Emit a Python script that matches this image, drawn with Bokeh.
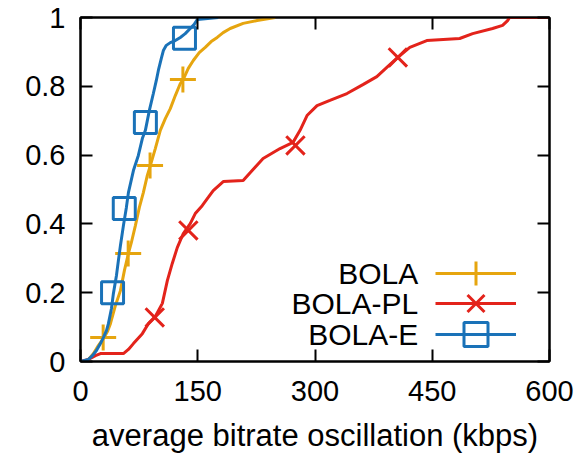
from bokeh.plotting import figure
from bokeh.models import (LinearAxis, FixedTicker, CustomJSTickFormatter, Range1d,
                          Legend, LegendItem, Label)
from bokeh.embed import file_html
from bokeh.resources import INLINE

# ---- data ----
bola_x = [5.1, 10.2, 16.6, 23.0, 29.4, 34.5, 38.3, 44.7, 51.1, 56.2, 61.3, 65.1, 70.2, 75.3,
          80.4, 85.5, 89.4, 95.7, 102.1, 108.5, 114.9, 121.3, 127.7, 131.5, 137.9, 144.3,
          151.9, 159.6, 167.2, 174.9, 182.5, 191.5, 208.1, 226.0, 249.0]
bola_y = [0.0, 0.006, 0.023, 0.047, 0.067, 0.087, 0.110, 0.163, 0.206, 0.265, 0.314, 0.346,
          0.395, 0.448, 0.491, 0.541, 0.570, 0.619, 0.672, 0.706, 0.735, 0.773, 0.808, 0.820,
          0.852, 0.875, 0.898, 0.913, 0.930, 0.942, 0.956, 0.968, 0.983, 0.991, 1.0]
bola_mx = [29, 61, 89, 131]
bola_my = [0.07, 0.314, 0.57, 0.82]

bolapl_x = [0.0, 10.2, 19.1, 25.5, 54.9, 61.3, 67.7, 79.1, 86.8, 95.7, 104.7, 111.1, 117.4,
            123.8, 131.5, 140.4, 146.8, 155.7, 163.4, 169.8, 182.6, 208.1, 217.0, 233.6,
            255.3, 271.9, 280.9, 289.8, 302.6, 319.1, 340.9, 361.3, 379.1, 391.9, 406.0,
            421.3, 443.0, 485.1, 501.7, 527.2, 540.0, 546.4, 548.9, 600.0]
bolapl_y = [0.0, 0.006, 0.017, 0.023, 0.023, 0.035, 0.052, 0.081, 0.110, 0.131, 0.169, 0.235,
            0.285, 0.331, 0.372, 0.401, 0.430, 0.453, 0.477, 0.497, 0.523, 0.526, 0.549,
            0.590, 0.619, 0.637, 0.672, 0.715, 0.744, 0.759, 0.779, 0.805, 0.828, 0.855,
            0.884, 0.913, 0.933, 0.939, 0.953, 0.968, 0.977, 0.991, 1.0, 1.0]
bolapl_mx = [95, 138, 275, 406]
bolapl_my = [0.128, 0.381, 0.628, 0.884]

bolae_x = [0.0, 10.2, 15.3, 20.4, 25.5, 29.4, 33.2, 35.7, 39.6, 42.1, 46.0, 48.5, 51.1, 54.9,
           58.7, 61.3, 67.7, 74.0, 79.1, 83.0, 88.1, 93.2, 97.0, 99.6, 103.4, 106.0, 109.8,
           114.9, 121.3, 127.7, 134.0, 140.4, 145.5, 149.4, 176.2]
bolae_y = [0.0, 0.006, 0.017, 0.032, 0.052, 0.070, 0.090, 0.110, 0.154, 0.198, 0.25, 0.294,
           0.337, 0.395, 0.448, 0.491, 0.555, 0.599, 0.648, 0.672, 0.730, 0.779, 0.817,
           0.846, 0.881, 0.904, 0.919, 0.927, 0.933, 0.942, 0.953, 0.968, 0.980, 0.994, 1.0]
bolae_mx = [41, 56, 83, 133]
bolae_my = [0.20, 0.445, 0.695, 0.94]

series_names = ["BOLA", "BOLA-PL", "BOLA-E"]
x_ticks = [0, 150, 300, 450, 600]
y_ticks = [0, 0.2, 0.4, 0.6, 0.8, 1.0]
x_title = "average bitrate oscillation (kbps)"

# ---- styling ----
FONT = "Liberation Sans"
FS = "29px"
C_BOLA = "#E6A50F"
C_PL = "#E3231B"
C_E = "#1A72B8"

p = figure(width=574, height=455, output_backend="svg", toolbar_location=None,
           x_range=Range1d(0, 600), y_range=Range1d(0, 1),
           min_border_left=80, min_border_right=25, min_border_top=17, min_border_bottom=91,
           x_axis_label=x_title)
p.grid.visible = False
p.outline_line_color = "black"
p.outline_line_width = 2
p.background_fill_color = "white"
p.border_fill_color = "white"

def style_axis(ax, ticks, show_labels):
    ax.ticker = FixedTicker(ticks=ticks)
    ax.major_tick_in = 12
    ax.major_tick_out = 0
    ax.minor_tick_in = 0
    ax.minor_tick_out = 0
    ax.axis_line_color = "black"
    ax.axis_line_width = 2
    ax.major_tick_line_color = "black"
    ax.major_tick_line_width = 2
    ax.major_label_text_font = FONT
    ax.major_label_text_color = "black"
    ax.major_label_text_font_size = FS
    if not show_labels:
        ax.formatter = CustomJSTickFormatter(code="return '';")
        ax.major_label_standoff = 0

style_axis(p.xaxis[0], x_ticks, True)
style_axis(p.yaxis[0], y_ticks, True)
p.xaxis[0].major_label_standoff = 19
p.yaxis[0].major_label_standoff = 15
p.yaxis[0].formatter = CustomJSTickFormatter(code="return String(Math.round(tick*10)/10);")
p.xaxis[0].axis_label_text_font = FONT
p.xaxis[0].axis_label_text_font_size = "31px"
p.xaxis[0].axis_label_text_font_style = "normal"
p.xaxis[0].axis_label_text_color = "black"
p.xaxis[0].axis_label_standoff = 14

top_ax = LinearAxis()
style_axis(top_ax, x_ticks, False)
p.add_layout(top_ax, "above")
right_ax = LinearAxis()
style_axis(right_ax, y_ticks, False)
p.add_layout(right_ax, "right")

# ---- curves ----
l1 = p.line(bola_x, bola_y, line_color=C_BOLA, line_width=3)
s1 = p.scatter(bola_mx, bola_my, marker="cross", size=26, line_color=C_BOLA,
               line_width=3, fill_color=None)
l2 = p.line(bolapl_x, bolapl_y, line_color=C_PL, line_width=3)
s2 = p.scatter(bolapl_mx, bolapl_my, marker="x", size=26, line_color=C_PL,
               line_width=3, fill_color=None)
l3 = p.line(bolae_x, bolae_y, line_color=C_E, line_width=3)
s3 = p.scatter(bolae_mx, bolae_my, marker="square", size=22, line_color=C_E,
               line_width=3, fill_color=None)

# ---- legend: one key per row (large glyph box so markers are full size),
#      texts as Labels to the left of the keys (gnuplot style) ----
renderer_pairs = [(l1, s1), (l2, s2), (l3, s3)]
row_bottoms = [58, 28, -3]
for (lr, sr), rb in zip(renderer_pairs, row_bottoms):
    lg = Legend(items=[LegendItem(label=" ", renderers=[lr, sr])],
                location=(355, rb), orientation="vertical",
                glyph_width=81, glyph_height=60, label_height=60, label_width=0,
                label_standoff=0, spacing=0, padding=0, margin=0,
                background_fill_alpha=0, border_line_alpha=0,
                label_text_font_size="10px")
    p.add_layout(lg)

legend_text_y = [0.256, 0.169, 0.078]
for name, ty in zip(series_names, legend_text_y):
    p.add_layout(Label(x=432, y=ty, text=name, text_align="right", text_baseline="middle",
                       text_font=FONT, text_font_size="30px", text_color="black"))

open("out.html", "w").write(file_html(p, INLINE))
